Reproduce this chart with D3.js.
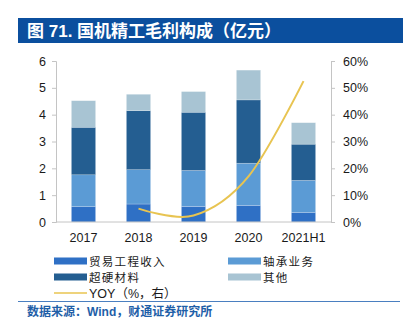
<!DOCTYPE html>
<html>
<head>
<meta charset="utf-8">
<script src="https://cdn.jsdelivr.net/npm/d3@7"></script>
<style>
  body { margin: 0; background: #fff; }
  svg { display: block; font-family: "Liberation Sans", Arial, "Noto Sans CJK SC", sans-serif; }
</style>
</head>
<body>
<div id="chart-area"></div>
<script>
// gross profit breakdown, 100m yuan
var years = ["2017", "2018", "2019", "2020", "2021H1"];
var trade = [0.57, 0.67, 0.58, 0.62, 0.36];
var bearing = [1.19, 1.28, 1.34, 1.57, 1.19];
var superhard = [1.77, 2.20, 2.17, 2.36, 1.35];
var other = [0.99, 0.61, 0.77, 1.11, 0.80];
// yoy growth, % (starts 2018)
var yoy = [null, 5.0, 2.4, 17.0, 52.5];

var leftTicks = [0, 1, 2, 3, 4, 5, 6];
var rightTicks = [0, 10, 20, 30, 40, 50, 60];

var seriesNames = ["贸易工程收入", "轴承业务", "超硬材料", "其他"];
var colors = ["#2f70c5", "#5b9bd5", "#245e91", "#a8c4d3"];
var lineColor = "#e8c451";

var W = 410, H = 328;
var svg = d3.select("#chart-area").append("svg")
    .attr("width", W)
    .attr("height", H);

// title banner
svg.append("rect")
    .attr("x", 18).attr("y", 18)
    .attr("width", 385).attr("height", 25)
    .attr("fill", "#0b4f9e");
svg.append("text")
    .attr("x", 27).attr("y", 36.5)
    .attr("fill", "#fff")
    .attr("font-size", 17)
    .attr("font-weight", "bold")
    .text("图 71. 国机精工毛利构成（亿元）");

var x = d3.scaleBand()
    .domain(years)
    .range([56, 331])
    .paddingInner(0.56)
    .paddingOuter(0.28);

var y = d3.scaleLinear().domain([0, 6]).range([222, 61]);
var y2 = d3.scaleLinear().domain([0, 60]).range([222, 61]);

// stacked bars
var rows = years.map(function(yr, i) {
    return { year: yr, s0: trade[i], s1: bearing[i], s2: superhard[i], s3: other[i] };
});
var stack = d3.stack().keys(["s0", "s1", "s2", "s3"]);
var layers = stack(rows);

svg.selectAll("g.layer")
    .data(layers)
    .enter().append("g")
    .attr("class", "layer")
    .attr("fill", function(d, i) { return colors[i]; })
    .selectAll("rect")
    .data(function(d) { return d; })
    .enter().append("rect")
    .attr("x", function(d) { return x(d.data.year); })
    .attr("width", x.bandwidth())
    .attr("y", function(d) { return y(d[1]); })
    .attr("height", function(d) { return y(d[0]) - y(d[1]); })
    .attr("stroke", "rgba(255,255,255,0.35)")
    .attr("stroke-width", 0.6);

// axes
var axisColor = "#c4c4c4";
var leftAxis = svg.append("g")
    .attr("transform", "translate(56,0)")
    .call(d3.axisLeft(y).tickValues(leftTicks).tickSize(4).tickPadding(6)
        .tickFormat(d3.format("d")));
var rightAxis = svg.append("g")
    .attr("transform", "translate(331,0)")
    .call(d3.axisRight(y2).tickValues(rightTicks).tickSize(4).tickPadding(8)
        .tickFormat(function(d) { return d + "%"; }));
[leftAxis, rightAxis].forEach(function(g) {
    g.selectAll("path, line").attr("stroke", axisColor);
    g.selectAll("text").attr("font-size", 12.5).attr("fill", "#1a1a1a")
        .attr("font-family", "Liberation Sans, Arial, sans-serif");
});

// baseline
svg.append("line")
    .attr("x1", 56).attr("x2", 331)
    .attr("y1", 222).attr("y2", 222)
    .attr("stroke", axisColor);

svg.selectAll("text.xlab")
    .data(years)
    .enter().append("text")
    .attr("class", "xlab")
    .attr("x", function(d) { return x(d) + x.bandwidth() / 2; })
    .attr("y", 242)
    .attr("text-anchor", "middle")
    .attr("font-size", 12.5)
    .attr("fill", "#1a1a1a")
    .text(function(d) { return d; });

// yoy line
var pts = years.map(function(yr, i) { return { year: yr, v: yoy[i] }; })
    .filter(function(d) { return d.v !== null; });
var line = d3.line()
    .x(function(d) { return x(d.year) + x.bandwidth() / 2; })
    .y(function(d) { return y2(d.v); })
    .curve(d3.curveCatmullRom.alpha(0));
svg.append("path")
    .datum(pts)
    .attr("d", line)
    .attr("fill", "none")
    .attr("stroke", lineColor)
    .attr("stroke-width", 2);

// legend
var legend = [
    { name: seriesNames[0], color: colors[0], x: 54, y: 261 },
    { name: seriesNames[1], color: colors[1], x: 228, y: 261 },
    { name: seriesNames[2], color: colors[2], x: 54, y: 277 },
    { name: seriesNames[3], color: colors[3], x: 228, y: 277 }
];
legend.forEach(function(d) {
    svg.append("rect")
        .attr("x", d.x).attr("y", d.y - 3.5)
        .attr("width", 33).attr("height", 7)
        .attr("fill", d.color);
    svg.append("text")
        .attr("x", d.x + 35).attr("y", d.y + 4.5)
        .attr("font-size", 11.5)
        .attr("letter-spacing", 1.3)
        .attr("fill", "#1a1a1a")
        .attr("font-family", "Noto Sans CJK SC, sans-serif")
        .text(d.name);
});
svg.append("line")
    .attr("x1", 54).attr("x2", 87)
    .attr("y1", 293).attr("y2", 293)
    .attr("stroke", lineColor)
    .attr("stroke-width", 1.5);
svg.append("text")
    .attr("x", 89).attr("y", 297.5)
    .attr("font-size", 12.5)
    .attr("fill", "#1a1a1a")
    .text("YOY（%，右）");

// source
svg.append("line")
    .attr("x1", 18).attr("x2", 400)
    .attr("y1", 301.5).attr("y2", 301.5)
    .attr("stroke", "#4a7fc0")
    .attr("stroke-width", 1);
svg.append("text")
    .attr("x", 27).attr("y", 316)
    .attr("font-size", 12)
    .attr("font-weight", "bold")
    .attr("fill", "#1f5fa8")
    .text("数据来源：Wind，财通证券研究所");
</script>
</body>
</html>
